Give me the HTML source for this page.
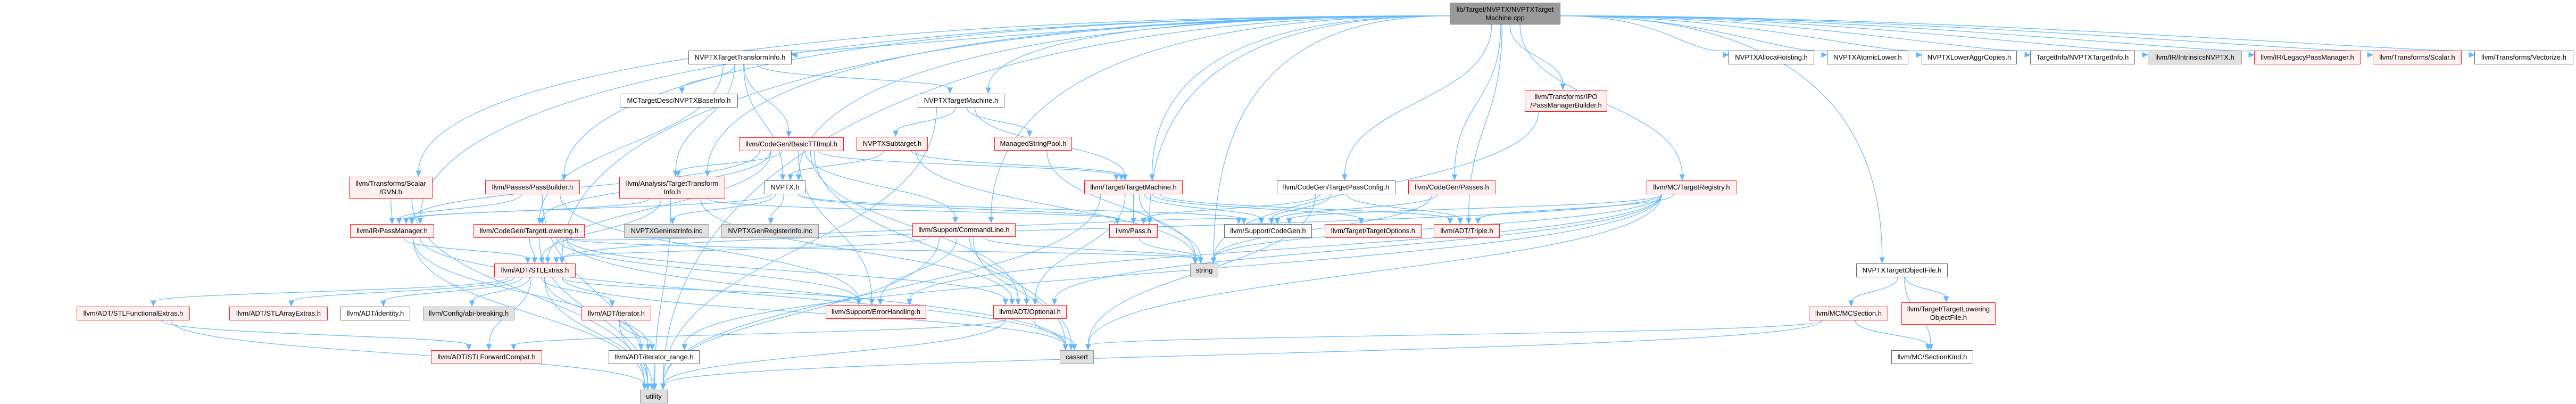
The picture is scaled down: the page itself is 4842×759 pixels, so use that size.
<!DOCTYPE html>
<html><head><meta charset="utf-8">
<style>
html,body{margin:0;padding:0;background:#fff;}
body{width:4842px;height:759px;overflow:hidden;position:relative;font-family:"Liberation Sans",Arial,sans-serif;}
svg{position:absolute;left:0;top:0;}
.n{position:absolute;box-sizing:border-box;display:flex;align-items:center;justify-content:center;text-align:center;font-size:13px;line-height:16px;color:#000;white-space:nowrap;}
.r{background:#fff0f0;border:1.5px solid #ff2020;}
.w{background:#fff;border:1.5px solid #666;}
.g{background:#e0e0e0;border:1.5px solid #999;}
.root{background:#999;border:1.5px solid #666;}
</style></head><body>
<svg id="edges" width="4842" height="759" xmlns="http://www.w3.org/2000/svg"></svg>

<div class="n root" id="root" style="left:2725px;top:5px;width:208px;height:41px">lib/Target/NVPTX/NVPTXTarget<br>Machine.cpp</div>

<div class="n w" id="tti" style="left:1294px;top:95px;width:194px;height:26px">NVPTXTargetTransformInfo.h</div>
<div class="n w" id="alloca" style="left:3249px;top:95px;width:161px;height:26px">NVPTXAllocaHoisting.h</div>
<div class="n w" id="atomic" style="left:3434px;top:95px;width:153px;height:26px">NVPTXAtomicLower.h</div>
<div class="n w" id="aggr" style="left:3612px;top:95px;width:179px;height:26px">NVPTXLowerAggrCopies.h</div>
<div class="n w" id="tinfo" style="left:3816px;top:95px;width:197px;height:26px">TargetInfo/NVPTXTargetInfo.h</div>
<div class="n g" id="intr" style="left:4037px;top:95px;width:177px;height:26px">llvm/IR/IntrinsicsNVPTX.h</div>
<div class="n r" id="legacy" style="left:4237px;top:95px;width:200px;height:26px">llvm/IR/LegacyPassManager.h</div>
<div class="n r" id="scalar" style="left:4460px;top:95px;width:167px;height:26px">llvm/Transforms/Scalar.h</div>
<div class="n w" id="vect" style="left:4651px;top:95px;width:186px;height:26px">llvm/Transforms/Vectorize.h</div>

<div class="n w" id="baseinfo" style="left:1165px;top:176px;width:222px;height:26px">MCTargetDesc/NVPTXBaseInfo.h</div>
<div class="n w" id="tm" style="left:1725px;top:176px;width:163px;height:26px">NVPTXTargetMachine.h</div>
<div class="n r" id="pmb" style="left:2866px;top:169px;width:155px;height:41px">llvm/Transforms/IPO<br>/PassManagerBuilder.h</div>

<div class="n r" id="basic" style="left:1389px;top:258px;width:197px;height:26px">llvm/CodeGen/BasicTTIImpl.h</div>
<div class="n r" id="subt" style="left:1610px;top:257px;width:134px;height:26px">NVPTXSubtarget.h</div>
<div class="n r" id="msp" style="left:1869px;top:257px;width:146px;height:26px">ManagedStringPool.h</div>

<div class="n r" id="gvn" style="left:656px;top:332px;width:157px;height:41px">llvm/Transforms/Scalar<br>/GVN.h</div>
<div class="n r" id="pb" style="left:912px;top:339px;width:178px;height:26px">llvm/Passes/PassBuilder.h</div>
<div class="n r" id="atti" style="left:1164px;top:332px;width:199px;height:41px">llvm/Analysis/TargetTransform<br>Info.h</div>
<div class="n w" id="nvptx" style="left:1437px;top:339px;width:77px;height:26px">NVPTX.h</div>
<div class="n r" id="ltm" style="left:2038px;top:339px;width:185px;height:26px">llvm/Target/TargetMachine.h</div>
<div class="n w" id="tpc" style="left:2400px;top:339px;width:223px;height:26px">llvm/CodeGen/TargetPassConfig.h</div>
<div class="n r" id="passes" style="left:2647px;top:339px;width:164px;height:26px">llvm/CodeGen/Passes.h</div>
<div class="n r" id="treg" style="left:3095px;top:339px;width:169px;height:26px">llvm/MC/TargetRegistry.h</div>

<div class="n r" id="pm" style="left:658px;top:421px;width:158px;height:26px">llvm/IR/PassManager.h</div>
<div class="n r" id="tl" style="left:890px;top:421px;width:209px;height:26px">llvm/CodeGen/TargetLowering.h</div>
<div class="n g" id="geninstr" style="left:1173px;top:421px;width:160px;height:26px">NVPTXGenInstrInfo.inc</div>
<div class="n g" id="genreg" style="left:1356px;top:421px;width:183px;height:26px">NVPTXGenRegisterInfo.inc</div>
<div class="n r" id="cl" style="left:1715px;top:419px;width:194px;height:26px">llvm/Support/CommandLine.h</div>
<div class="n r" id="pass" style="left:2085px;top:421px;width:91px;height:26px">llvm/Pass.h</div>
<div class="n w" id="cg" style="left:2301px;top:421px;width:165px;height:26px">llvm/Support/CodeGen.h</div>
<div class="n r" id="topt" style="left:2490px;top:421px;width:182px;height:26px">llvm/Target/TargetOptions.h</div>
<div class="n r" id="triple" style="left:2695px;top:421px;width:124px;height:26px">llvm/ADT/Triple.h</div>

<div class="n r" id="stl" style="left:929px;top:495px;width:153px;height:26px">llvm/ADT/STLExtras.h</div>
<div class="n g" id="string" style="left:2237px;top:495px;width:53px;height:26px">string</div>
<div class="n w" id="tof" style="left:3489px;top:495px;width:172px;height:26px">NVPTXTargetObjectFile.h</div>

<div class="n r" id="stlf" style="left:144px;top:576px;width:213px;height:26px">llvm/ADT/STLFunctionalExtras.h</div>
<div class="n r" id="stla" style="left:431px;top:576px;width:185px;height:26px">llvm/ADT/STLArrayExtras.h</div>
<div class="n w" id="ident" style="left:640px;top:576px;width:131px;height:26px">llvm/ADT/identity.h</div>
<div class="n g" id="abi" style="left:795px;top:576px;width:172px;height:26px">llvm/Config/abi-breaking.h</div>
<div class="n r" id="iter" style="left:1093px;top:576px;width:131px;height:26px">llvm/ADT/iterator.h</div>
<div class="n r" id="eh" style="left:1552px;top:573px;width:189px;height:26px">llvm/Support/ErrorHandling.h</div>
<div class="n r" id="opt" style="left:1867px;top:573px;width:138px;height:26px">llvm/ADT/Optional.h</div>
<div class="n r" id="mcs" style="left:3400px;top:576px;width:149px;height:26px">llvm/MC/MCSection.h</div>
<div class="n r" id="tlof" style="left:3574px;top:568px;width:177px;height:42px">llvm/Target/TargetLowering<br>ObjectFile.h</div>

<div class="n r" id="fwd" style="left:810px;top:658px;width:209px;height:26px">llvm/ADT/STLForwardCompat.h</div>
<div class="n w" id="ir" style="left:1144px;top:658px;width:171px;height:26px">llvm/ADT/iterator_range.h</div>
<div class="n g" id="cassert" style="left:1992px;top:658px;width:64px;height:26px">cassert</div>
<div class="n w" id="sk" style="left:3555px;top:658px;width:154px;height:26px">llvm/MC/SectionKind.h</div>

<div class="n g" id="utility" style="left:1203px;top:732px;width:52px;height:26px">utility</div>

<script>
var E=[
["root","tti"],["root","alloca"],["root","atomic"],["root","aggr"],["root","tinfo"],["root","intr"],["root","legacy"],["root","scalar"],["root","vect"],
["root","tm"],["root","pmb"],["root","gvn"],["root","pb"],["root","atti"],["root","nvptx"],["root","ltm"],["root","tpc"],["root","passes"],["root","treg"],
["root","pm"],["root","cl"],["root","pass"],["root","triple"],["root","tof"],["root","stl"],["root","utility"],["root","string"],
["tti","baseinfo"],["tti","basic"],["tti","atti"],["tti","tm"],["tti","tl"],["tti","nvptx"],
["tm","subt"],["tm","msp"],["tm","ltm"],["tm","utility"],
["basic","atti"],["basic","pm"],["basic","ltm"],["basic","stl"],["basic","cassert"],["basic","opt"],["basic","eh"],["basic","cl"],["basic","tl"],
["subt","nvptx"],["subt","string"],["subt","ltm"],["msp","string"],
["ltm","pass"],["ltm","string"],["ltm","cg"],["ltm","topt"],["ltm","triple"],["ltm","opt"],["ltm","utility"],
["gvn","pm"],["gvn","utility"],["pb","pm"],["pb","utility"],["pb","eh"],
["atti","pm"],["atti","pass"],["atti","opt"],["atti","utility"],["atti","stl"],
["nvptx","geninstr"],["nvptx","genreg"],["nvptx","cg"],["nvptx","pass"],["nvptx","pm"],
["pm","stl"],["pm","utility"],["pm","cassert"],["pm","ir"],
["tl","stl"],["tl","opt"],["tl","eh"],["tl","cassert"],["tl","utility"],["tl","string"],["tl","cg"],
["cl","eh"],["cl","opt"],["cl","cassert"],["cl","string"],["cl","utility"],["cl","stl"],
["pass","string"],["tpc","cg"],["tpc","triple"],["tpc","pass"],["tpc","cassert"],["passes","cg"],["passes","string"],
["treg","cg"],["treg","triple"],["treg","opt"],["treg","eh"],["treg","string"],["treg","cassert"],["treg","ir"],["treg","stl"],
["pmb","string"],
["stl","stlf"],["stl","stla"],["stl","ident"],["stl","abi"],["stl","iter"],["stl","fwd"],["stl","ir"],["stl","utility"],["stl","eh"],["stl","cassert"],
["opt","fwd"],["opt","cassert"],["opt","utility"],["iter","ir"],["iter","utility"],["ir","utility"],["stlf","fwd"],["stlf","utility"],
["tof","mcs"],["tof","tlof"],["tof","sk"],["mcs","sk"],["mcs","utility"],["mcs","cassert"]
];
function box(id){var e=document.getElementById(id);return {x:e.offsetLeft,y:e.offsetTop,w:e.offsetWidth,h:e.offsetHeight};}
var svg=document.getElementById("edges"),ns="http://www.w3.org/2000/svg",out="";
E.forEach(function(p){
 var a=box(p[0]),b=box(p[1]);
 var acx=a.x+a.w/2,bcx=b.x+b.w/2;
 var dx=bcx-acx;
 var sx,sy,tx,ty,c1x,c1y,c2x,c2y;
 tx=bcx+Math.max(-b.w/3,Math.min(b.w/3,-dx*0.05));
 ty=b.y-1;
 if(p[0]=="root" && Math.abs(dx)>400){
   sx=dx<0?a.x:a.x+a.w; sy=a.y+a.h*0.6;
   if(b.y<130){ // same top row: arrive at left side
     tx=dx<0?b.x+b.w:b.x; ty=b.y+8; c1x=sx+dx*0.4;c1y=sy;c2x=tx-(dx<0?-80:80);c2y=ty;
   } else {c1x=sx+dx*0.6;c1y=sy;c2x=tx;c2y=sy+(ty-sy)*0.4;}
 } else {
   sx=acx+Math.max(-a.w/3,Math.min(a.w/3,dx*0.08)); sy=a.y+a.h;
   var k=(ty-sy)*0.5; if(k<20)k=20;
   c1x=sx;c1y=sy+k;c2x=tx;c2y=ty-k;
 }
 out+='<path d="M'+sx+','+sy+' C'+c1x+','+c1y+' '+c2x+','+c2y+' '+tx+','+(ty-8)+'" fill="none" stroke="#63b8ff" stroke-width="1.2"/>';
 var ang=Math.atan2(ty-(ty-8)+0.0001 + (ty-8-c2y)*0.0, tx-c2x);
 ang=Math.atan2((ty)-(c2y), tx-c2x);
 var L=10,W=4.5;var ux=Math.cos(ang),uy=Math.sin(ang);
 var bx=tx-ux*L,by=ty-uy*L;
 out+='<polygon points="'+tx+','+ty+' '+(bx-uy*W)+','+(by+ux*W)+' '+(bx+uy*W)+','+(by-ux*W)+'" fill="#63b8ff" stroke="#63b8ff"/>';
});
svg.innerHTML=out;
</script>
</body></html>
